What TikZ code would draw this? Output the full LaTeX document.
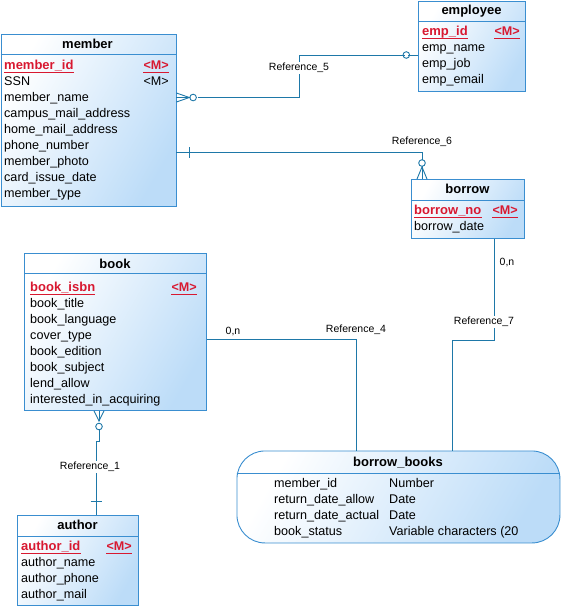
\documentclass[tikz,border=0pt]{standalone}
\usepackage{fontspec}
\setmainfont{Liberation Sans}
\definecolor{entblue}{HTML}{BCDCF8}
\definecolor{entline}{HTML}{3A8ED0}
\definecolor{connc}{HTML}{1E78A8}
\definecolor{keyred}{HTML}{D81830}
\tikzset{
  ent/.style={draw=entline, line width=0.9pt, top color=white, bottom color=entblue, shading angle=60, inner sep=0pt, anchor=north west},
  hdr/.style={font=\fontsize{13}{15}\selectfont\bfseries, inner sep=0pt, anchor=base},
  attr/.style={font=\fontsize{12.6}{14}\selectfont, inner sep=0pt, anchor=base west},
  keyattr/.style={font=\fontsize{13}{15}\selectfont\bfseries, text=keyred, inner sep=0pt, anchor=base west},
  mkey/.style={font=\fontsize{12.6}{14}\selectfont\bfseries, text=keyred, inner sep=0pt, anchor=base east},
  mplain/.style={font=\fontsize{12.6}{14}\selectfont, inner sep=0pt, anchor=base east},
  uline/.style={draw=keyred, line width=1pt},
  sep/.style={draw=entline, line width=0.9pt},
  conn/.style={draw=connc, line width=0.9pt},
  reflab/.style={font=\fontsize{10.5}{12}\selectfont, fill=white, inner sep=1pt},
  card/.style={font=\fontsize{10.5}{12}\selectfont, inner sep=1pt},
}
\begin{document}
\begin{tikzpicture}[x=1pt,y=-1pt]
\useasboundingbox (0,0) rectangle (561,606);

% ---------- member ----------
\node[ent, minimum width=175pt, minimum height=172pt] (member) at (0.5,34) {};
\draw[sep] (0.5,54) -- (175.5,54);
\node[hdr] (memberH) at (87.5,48) {member};
\node[keyattr] (m1) at (4,69.5) {member\_id};
\node[mkey] (m1k) at (169,69.5) {<M>};
\draw[uline] ([yshift=-2.5pt]m1.base west) -- ([yshift=-2.5pt]m1.base east);
\draw[uline] ([yshift=-2.5pt]m1k.base west) -- ([yshift=-2.5pt]m1k.base east);
\node[attr] (m2) at (4,85.5) {SSN};
\node[mplain] (m2k) at (169,85.5) {<M>};
\node[attr] (m3) at (4,101.5) {member\_name};
\node[attr] (m4) at (4,117.5) {campus\_mail\_address};
\node[attr] (m5) at (4,133.5) {home\_mail\_address};
\node[attr] (m6) at (4,149.5) {phone\_number};
\node[attr] (m7) at (4,165.5) {member\_photo};
\node[attr] (m8) at (4,181.5) {card\_issue\_date};
\node[attr] (m9) at (4,197.5) {member\_type};

% ---------- employee ----------
\node[ent, minimum width=107pt, minimum height=90pt] (employee) at (418,1) {};
\draw[sep] (418,21) -- (525,21);
\node[hdr] (employeeH) at (471.5,14.5) {employee};
\node[keyattr] (e1) at (422,35.5) {emp\_id};
\node[mkey] (e1k) at (520,35.5) {<M>};
\draw[uline] ([yshift=-2.5pt]e1.base west) -- ([yshift=-2.5pt]e1.base east);
\draw[uline] ([yshift=-2.5pt]e1k.base west) -- ([yshift=-2.5pt]e1k.base east);
\node[attr] (e2) at (422,51.5) {emp\_name};
\node[attr] (e3) at (422,67.5) {emp\_job};
\node[attr] (e4) at (422,83.5) {emp\_email};

% ---------- borrow ----------
\node[ent, minimum width=113pt, minimum height=59pt] (borrow) at (411,179) {};
\draw[sep] (411,200) -- (524,200);
\node[hdr] (borrowH) at (467.5,193.5) {borrow};
\node[keyattr] (b1) at (414,214.5) {borrow\_no};
\node[mkey] (b1k) at (518,214.5) {<M>};
\draw[uline] ([yshift=-2.5pt]b1.base west) -- ([yshift=-2.5pt]b1.base east);
\draw[uline] ([yshift=-2.5pt]b1k.base west) -- ([yshift=-2.5pt]b1k.base east);
\node[attr] (b2) at (414,230.5) {borrow\_date};

% ---------- book ----------
\node[ent, minimum width=182pt, minimum height=157pt] (book) at (24,253) {};
\draw[sep] (24,273) -- (206,273);
\node[hdr] (bookH) at (115,268.5) {book};
\node[keyattr] (k1) at (30,291.5) {book\_isbn};
\node[mkey] (k1k) at (197,291.5) {<M>};
\draw[uline] ([yshift=-2.5pt]k1.base west) -- ([yshift=-2.5pt]k1.base east);
\draw[uline] ([yshift=-2.5pt]k1k.base west) -- ([yshift=-2.5pt]k1k.base east);
\node[attr] (k2) at (30,307.5) {book\_title};
\node[attr] (k3) at (30,323.5) {book\_language};
\node[attr] (k4) at (30,339.5) {cover\_type};
\node[attr] (k5) at (30,355.5) {book\_edition};
\node[attr] (k6) at (30,371.5) {book\_subject};
\node[attr] (k7) at (30,387.5) {lend\_allow};
\node[attr] (k8) at (30,403.5) {interested\_in\_acquiring};

% ---------- author ----------
\node[ent, minimum width=121pt, minimum height=90pt] (author) at (17,515) {};
\draw[sep] (17,536) -- (138,536);
\node[hdr] (authorH) at (77.5,529.5) {author};
\node[keyattr] (a1) at (21,550.5) {author\_id};
\node[mkey] (a1k) at (132,550.5) {<M>};
\draw[uline] ([yshift=-2.5pt]a1.base west) -- ([yshift=-2.5pt]a1.base east);
\draw[uline] ([yshift=-2.5pt]a1k.base west) -- ([yshift=-2.5pt]a1k.base east);
\node[attr] (a2) at (21,566.5) {author\_name};
\node[attr] (a3) at (21,582.5) {author\_phone};
\node[attr] (a4) at (21,598.5) {author\_mail};

% ---------- borrow_books ----------
\node[ent, rounded corners=28pt, minimum width=323pt, minimum height=92pt] (bb) at (236.5,450.5) {};
\begin{scope}
  \clip[rounded corners=28pt] (236.5,450.5) rectangle (559.5,542.5);
  \draw[sep] (230,473) -- (565,473);
\end{scope}
\node[hdr] (bbH) at (398,466.5) {borrow\_books};
\node[attr] (r1) at (274,487.5) {member\_id};
\node[attr] (r2) at (274,503.5) {return\_date\_allow};
\node[attr] (r3) at (274,519.5) {return\_date\_actual};
\node[attr] (r4) at (274,535.5) {book\_status};
\node[attr] (t1) at (389,487.5) {Number};
\node[attr] (t2) at (389,503.5) {Date};
\node[attr] (t3) at (389,519.5) {Date};
\node[attr] (t4) at (389,535.5) {Variable characters (20};

% ---------- connectors ----------
% Reference_5 : member -- employee
\coordinate (r5a) at (member.east |- 0,97.5);
\coordinate (r5b) at (employee.west |- 0,55);
\draw[conn] (r5a) ++(13,0) ++(8.3,0) -- (299,97.5) -- (299,55) -- ([xshift=-13.3pt]r5b);
\draw[conn] ([xshift=-10pt]r5b) -- (r5b);
\draw[conn] ([xshift=-11.7pt]r5b) circle (3.3pt);
\draw[conn] ([xshift=16.7pt]r5a) circle (3.3pt);
\draw[conn] ([yshift=4.5pt]r5a) -- ([xshift=13pt]r5a) -- ([yshift=-4.5pt]r5a);
\draw[conn] (r5a) -- ([xshift=13pt]r5a);
\node[reflab] (ref5) at (299,68) {Reference\_5};

% Reference_6 : member -- borrow
\coordinate (r6a) at (member.east |- 0,152.5);
\coordinate (r6b) at (borrow.north -| 422,0);
\draw[conn] (r6a) -- (422,152.5) -- (422,159.7);
\draw[conn] (422,163) circle (3.3pt);
\draw[conn] ([xshift=-5pt]r6b) -- (422,167) -- ([xshift=5pt]r6b);
\draw[conn] (r6b) -- (422,166.3);
\draw[conn] (189,147) -- (189,158);
\node[reflab] (ref6) at (422,142) {Reference\_6};

% Reference_1 : book -- author
\coordinate (r1a) at (book.south -| 99,0);
\coordinate (r1b) at (author.north -| 96,0);
\draw[conn] ([xshift=-5pt]r1a) -- (99,421) -- ([xshift=5pt]r1a);
\draw[conn] (r1a) -- (99,421);
\draw[conn] (99,426.5) circle (3.3pt);
\draw[conn] (99,429.8) -- (99,441) -- (96,441) -- (r1b);
\draw[conn] (90.5,501) -- (101.5,501);
\node[reflab] (ref1) at (90,467) {Reference\_1};

% Reference_4 : book -- borrow_books
\coordinate (r4a) at (book.east |- 0,339);
\coordinate (r4b) at (bb.north -| 356,0);
\draw[conn] (r4a) -- (356,339) -- (r4b);
\node[card] (c4) at (233,331) {0,n};
\node[reflab] (ref4) at (356,330) {Reference\_4};

% Reference_7 : borrow -- borrow_books
\coordinate (r7a) at (borrow.south -| 494,0);
\coordinate (r7b) at (bb.north -| 452.5,0);
\draw[conn] (r7a) -- (494,340.5) -- (452.5,340.5) -- (r7b);
\node[card] (c7) at (507,262) {0,n};
\node[reflab] (ref7) at (484,322) {Reference\_7};
\end{tikzpicture}
\end{document}
